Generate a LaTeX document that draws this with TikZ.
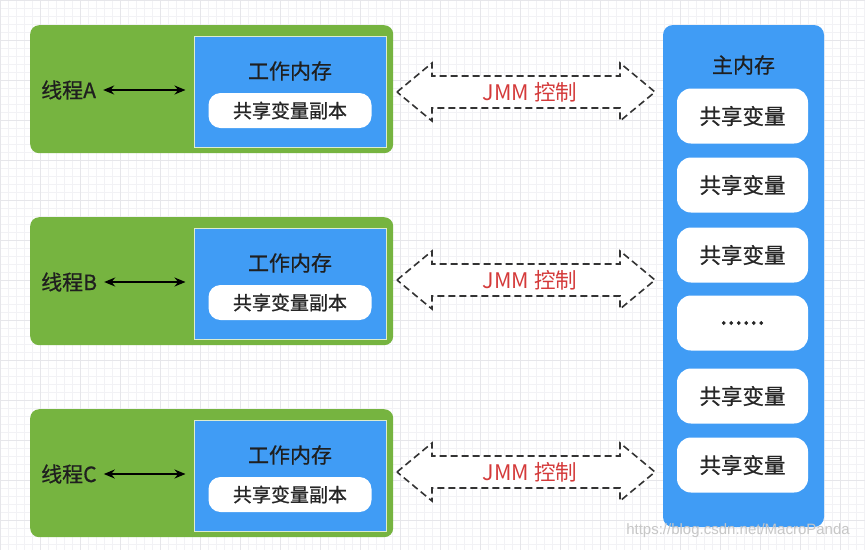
\documentclass[tikz,border=0pt]{standalone}
\usepackage{fontspec}
\newfontfamily\cjk[FakeBold=0.7]{Noto Sans CJK SC}
\newfontfamily\cjklight{Noto Sans CJK SC}
\newfontfamily\wmfont{Liberation Sans}
\usetikzlibrary{arrows.meta}
\definecolor{threadgreen}{RGB}{118,180,64}
\definecolor{memblue}{RGB}{64,156,245}
\definecolor{jmmred}{RGB}{212,58,58}
\definecolor{gridminor}{RGB}{242,242,245}
\definecolor{gridmajor}{RGB}{230,230,234}
\newcommand\moredots{{\fontsize{27}{30}\selectfont......}}
\tikzset{
  thread/.style={fill=threadgreen, rounded corners=9pt, minimum width=363pt, minimum height=128pt, anchor=north west},
  work/.style={fill=memblue, draw=white!75!threadgreen, line width=1.5pt, minimum width=192pt, minimum height=111pt, anchor=north west},
  title/.style={font=\cjk\fontsize{21}{25}\selectfont, text=black!88},
  copybox/.style={fill=white, rounded corners=12pt, minimum width=163pt, minimum height=35pt, font=\cjk\fontsize{19}{23}\selectfont, text=black!85},
  varbox/.style={fill=white, rounded corners=14pt, minimum width=131pt, minimum height=55pt, font=\cjk\fontsize{21.5}{25}\selectfont, text=black!85},
  link/.style={{Stealth[length=11pt,width=9pt]}-{Stealth[length=11pt,width=9pt]}, line width=1.5pt, shorten <=7pt, shorten >=8pt},
  jmm/.style={draw=black!80, dashed, dash pattern=on 7pt off 4pt, line width=1.6pt, fill=white},
  jmmtext/.style={font=\cjklight\fontsize{21.5}{25}\selectfont, text=jmmred}
}
\begin{document}
\begin{tikzpicture}[x=1pt,y=-1pt]
\useasboundingbox (0,0) rectangle (865,550);
\fill[white] (0,0) rectangle (865,550);
% background grid
\foreach \g in {0,8,...,864} \draw[gridminor, line width=0.5pt] (\g,0) -- (\g,550);
\foreach \g in {0,8,...,550} \draw[gridminor, line width=0.5pt] (0,\g) -- (865,\g);
\foreach \g in {0,40,...,864} \draw[gridmajor, line width=0.6pt] (\g,0) -- (\g,550);
\foreach \g in {0,40,...,550} \draw[gridmajor, line width=0.6pt] (0,\g) -- (865,\g);

% threads with working memory
\foreach \n/\ty/\ay in {A/25/92, B/217/280, C/409/472} {
  \node[thread] (thread-\n) at (30,\ty) {};
  \node[work] (work-\n) at (193.5,\ty+10.5) {};
  \node[title] (wtitle-\n) at (290,\ty+46) {工作内存};
  \node[copybox] (copy-\n) at (290,\ty+85.5) {共享变量副本};
  \node[title, anchor=west, inner sep=0pt] (lbl-\n) at (41,\ty+65) {线程\n};
  \draw[link] (lbl-\n.east) -- (work-\n.west |- lbl-\n.east);
  % JMM arrow
  \draw[jmm] (397,\ay) -- (432,\ay-29) -- (432,\ay-16) -- (620,\ay-16) -- (620,\ay-29)
    -- (655,\ay) -- (620,\ay+29) -- (620,\ay+16) -- (432,\ay+16) -- (432,\ay+29) -- cycle;
  \node[jmmtext] (jmm-\n) at (530,\ay) {JMM 控制};
}

% main memory
\fill[memblue, rounded corners=10pt] (663,25) rectangle (824,527);
\node[title] (mtitle) at (743.5,65) {主内存};
\foreach \i/\vy/\vt in {1/116/共享变量, 2/185/共享变量, 3/255/共享变量, 4/323/\moredots, 5/396/共享变量, 6/465/共享变量}
  \node[varbox] (var-\i) at (742.5,\vy) {\vt};

\node[font=\wmfont\fontsize{15}{18}\selectfont, text=black!22] (mark) at (738,531) {https://blog.csdn.net/MacroPanda};
\end{tikzpicture}
\end{document}
